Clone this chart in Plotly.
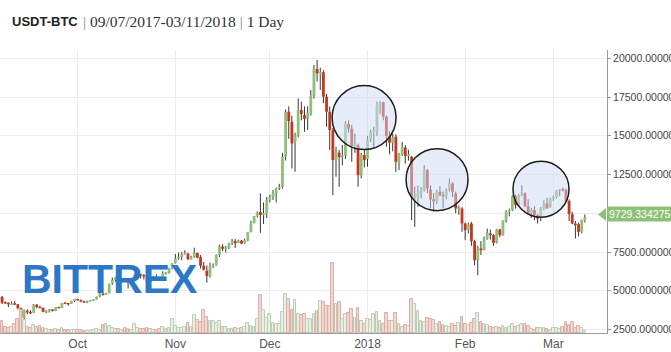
import plotly.graph_objects as go
import pandas as pd

# ---------------- data ----------------
dates = pd.date_range("2017-09-07", "2018-03-11", freq="D")

open_ = [4605, 4229, 4229, 4122, 4168, 4132, 3875, 3270, 3700, 3600,
         3560, 4110, 3940, 3905, 3640, 3650, 3800, 3700, 3930, 3900,
         4200, 4174, 4166, 4341, 4460, 4390, 4320, 4229, 4324, 4370,
         4430, 4614, 4800, 4740, 4850, 5464, 5700, 5835, 5688, 5741,
         5603, 5583, 5708, 6006, 6036, 6007, 5935, 5524, 5747, 5899,
         5787, 5755, 6114, 6132, 6441, 6777, 7087, 7164, 7404, 7403,
         7023, 7141, 7446, 7173, 6618, 6296, 5938, 6561, 6634, 7323,
         7853, 7697, 7767, 8039, 8205, 8077, 8233, 8075, 8241, 8789,
         9352, 9823, 10077, 9888, 10000, 10850, 11050, 11300, 11600, 11709,
         13646, 16553, 15907, 14600, 15046, 16661, 16338, 16122, 16445, 17565,
         19309, 19029, 19100, 17522, 16553, 15369, 13431, 13905, 13620, 13733,
         15756, 15455, 14300, 14400, 12462, 13754, 13500, 14766, 15196, 15300,
         16983, 17156, 16230, 14981, 14550, 14938, 13323, 13818, 14249, 13689,
         13646, 11020, 11063, 11300, 11493, 12785, 11536, 10900, 10760, 11386,
         11170, 11106, 11536, 11924, 11278, 10250, 10309, 9340, 8910, 9340,
         8199, 6971, 7725, 7617, 8371, 8694, 8586, 8091, 8952, 8586,
         9512, 10093, 10200, 11105, 10523, 11170, 11277, 10459, 9985, 10200,
         9878, 9770, 10308, 10631, 10416, 10954, 11062, 11492, 11535, 11500,
         10782, 9942, 9339, 9296, 8801, 9555]
high = [4662, 4308, 4245, 4308, 4344, 4132, 3921, 3790, 3808, 3748,
        4130, 4120, 4031, 3916, 3758, 3819, 3810, 3950, 3969, 4210,
        4253, 4214, 4358, 4480, 4490, 4433, 4355, 4362, 4413, 4443,
        4627, 4878, 4923, 4874, 5460, 5856, 5900, 5852, 5784, 5776,
        5603, 5749, 6060, 6194, 6076, 6075, 5935, 5798, 5971, 6059,
        5876, 6255, 6214, 6470, 6781, 7367, 7461, 7492, 7617, 7445,
        7253, 7776, 7447, 7312, 6870, 6626, 6812, 6764, 7342, 7967,
        8004, 7884, 8102, 8336, 8348, 8302, 8268, 8374, 8790, 9522,
        9818, 10125, 11280, 10700, 11046, 11200, 11500, 11657, 11900, 13900,
        16700, 16900, 16300, 15200, 17414, 17200, 16900, 16900, 17952, 19567,
        19890, 19400, 19250, 17700, 16900, 15500, 14292, 14100, 14400, 15950,
        16000, 15700, 15150, 14500, 13900, 14100, 15000, 15400, 15584, 17200,
        17263, 17200, 16300, 15300, 15150, 15100, 13900, 14600, 14400, 14100,
        13700, 11708, 11800, 11700, 13108, 12850, 11800, 11300, 11500, 11752,
        11400, 11600, 12247, 12000, 11400, 10500, 10400, 9400, 9400, 9450,
        8300, 7900, 8200, 8500, 9016, 8950, 8650, 8990, 9000, 9550,
        10200, 10300, 11150, 11200, 11250, 11815, 11350, 10900, 10350, 10450,
        9950, 10400, 10850, 11000, 11000, 11150, 11500, 11550, 11650, 11600,
        10900, 10100, 9500, 9400, 9600, 9921]
low = [4140, 4140, 3951, 4109, 4085, 3789, 2990, 3000, 3487, 3499,
       3560, 3869, 3871, 3613, 3553, 3594, 3666, 3690, 3869, 3892,
       4142, 4035, 4160, 4269, 4377, 4258, 4210, 4196, 4320, 4330,
       4430, 4564, 4700, 4720, 4822, 5380, 5591, 5478, 5643, 5570,
       5151, 5583, 5627, 5965, 5792, 5732, 5451, 5379, 5747, 5747,
       5689, 5723, 6040, 6104, 6377, 6758, 7003, 6975, 7333, 7004,
       7023, 7115, 7101, 6437, 6300, 5519, 5844, 6461, 6634, 7176,
       7561, 7463, 7694, 7949, 7762, 8075, 8038, 8035, 8191, 8776,
       9352, 9737, 8740, 9300, 9694, 10700, 10862, 10700, 11500, 11600,
       13400, 14800, 12893, 12678, 14900, 16000, 15261, 15370, 16300, 17400,
       18500, 17952, 17100, 15584, 14077, 11170, 12355, 11709, 13100, 13500,
       15200, 13323, 13900, 11709, 12250, 12957, 13000, 14600, 14184, 15000,
       16400, 16000, 14292, 13800, 14000, 12677, 12785, 13700, 13200, 13400,
       9555, 9125, 10417, 10950, 11400, 11300, 10309, 10094, 10600, 11100,
       10309, 10900, 11400, 11050, 10000, 9900, 8802, 8264, 8700, 7897,
       6647, 6002, 7300, 7600, 8300, 8300, 7900, 8050, 8450, 8550,
       9400, 9800, 10150, 10300, 10500, 11100, 10400, 9900, 9700, 9556,
       9340, 9500, 10200, 10300, 10350, 10800, 10950, 11100, 11400, 10700,
       9500, 9300, 8371, 8500, 8700, 9400]
close = [4229, 4226, 4122, 4161, 4130, 3882, 3270, 3740, 3600, 3560,
         4110, 3940, 3905, 3640, 3650, 3800, 3700, 3930, 3900, 4200,
         4174, 4164, 4338, 4460, 4390, 4317, 4229, 4328, 4370, 4426,
         4610, 4800, 4720, 4850, 5446, 5720, 5860, 5679, 5725, 5605,
         5590, 5708, 6011, 6031, 6009, 5930, 5526, 5750, 5904, 5780,
         5753, 6153, 6130, 6468, 6767, 7078, 7207, 7379, 7407, 7022,
         7144, 7459, 7143, 6618, 6357, 5950, 6559, 6635, 7315, 7871,
         7708, 7790, 8036, 8200, 8071, 8253, 8038, 8253, 8790, 9330,
         9819, 10058, 9888, 10000, 10850, 11050, 11300, 11600, 11709, 13646,
         16553, 15950, 14508, 15046, 16661, 16402, 16079, 16445, 17565, 19309,
         19029, 19100, 17522, 16553, 15369, 13431, 13905, 13620, 13733, 15842,
         15455, 14335, 14420, 12462, 13754, 13431, 14766, 15196, 15300, 16983,
         17156, 16230, 14981, 14550, 14900, 13323, 13818, 14292, 13689, 13800,
         11063, 11106, 11300, 11493, 12785, 11601, 10890, 10760, 11386, 11150,
         11106, 11536, 11924, 11386, 10309, 10330, 9340, 8910, 9280, 8199,
         6972, 7725, 7617, 8371, 8737, 8586, 8091, 8952, 8586, 9512,
         10093, 10200, 11105, 10523, 11170, 11277, 10459, 9985, 10200, 9878,
         9662, 10308, 10631, 10308, 10954, 11062, 11492, 11535, 11500, 10782,
         9942, 9339, 9232, 8801, 9555, 9729]
volume = [12, 6, 5, 6, 9, 14, 23, 13, 6, 5,
          8, 6, 7, 5, 4, 3, 3, 4, 3, 5,
          3, 3, 3, 3, 3, 3, 2, 2, 2, 3,
          4, 3, 8, 9, 7, 5, 4, 4, 3, 5,
          4, 3, 9, 5, 4, 4, 5, 4, 3, 3,
          4, 6, 4, 5, 14, 7, 5, 5, 6, 10,
          6, 18, 13, 11, 23, 16, 12, 12, 10, 12,
          6, 6, 4, 4, 5, 4, 5, 6, 10, 7,
          6, 14, 38, 23, 15, 19, 10, 9, 9, 21,
          39, 34, 23, 33, 19, 18, 19, 14, 14, 19,
          22, 32, 31, 27, 27, 70, 29, 31, 14, 19,
          20, 24, 15, 25, 12, 9, 14, 13, 19, 21,
          12, 9, 20, 12, 12, 20, 9, 6, 8, 7,
          34, 29, 22, 12, 11, 15, 14, 13, 9, 11,
          8, 7, 6, 9, 7, 10, 16, 9, 8, 10,
          14, 20, 11, 9, 8, 6, 5, 6, 5, 7,
          5, 6, 9, 6, 7, 9, 9, 7, 4, 3,
          5, 5, 5, 4, 3, 5, 5, 4, 6, 11,
          8, 11, 5, 7, 5, 2]

month_ticks = ["2017-10-01", "2017-11-01", "2017-12-01", "2018-01-01", "2018-02-01", "2018-03-01"]
month_labels = ["Oct", "Nov", "Dec", "2018", "Feb", "Mar"]
price_ticks = [2500, 5000, 7500, 10000, 12500, 15000, 17500, 20000]
# the 10000 label sits under the last-price flag, so it is left blank
price_labels = ["2500.000000", "5000.000000", "7500.000000", "",
                "12500.000000", "15000.000000", "17500.000000", "20000.000000"]

# highlight circles: centre (date, price) and radius in px
circle_dates = ["2017-12-30 22:00", "2018-01-23 02:00", "2018-02-25 02:00"]
circle_prices = [16176, 12170, 11557]
circle_radius = [32, 31, 28]

last_price_text = "9729.334275"

# ---------------- styling ----------------
UP_BODY, DN_BODY, WICK = "#8cc176", "#c4371c", "#383838"
UP_VOL, UP_VOL_LINE = "#e8f0e1", "#bfcdb8"
DN_VOL, DN_VOL_LINE = "#f3d6d0", "#dab0a9"
DAY_MS = 86400000
MIN_BODY = 90  # smallest body drawn, in price units (about 1.4 px)

is_up = [c >= o for o, c in zip(open_, close)]

fig = go.Figure()

# volume
fig.add_trace(go.Bar(
    x=dates, y=volume, yaxis="y2",
    width=0.88 * DAY_MS,
    marker=dict(color=[UP_VOL if u else DN_VOL for u in is_up],
                line=dict(color=[UP_VOL_LINE if u else DN_VOL_LINE for u in is_up], width=1)),
    hoverinfo="skip", showlegend=False))

# wicks
wx, wy = [], []
for d, h, l in zip(dates, high, low):
    wx += [d, d, None]
    wy += [l, h, None]
fig.add_trace(go.Scatter(x=wx, y=wy, mode="lines", line=dict(color=WICK, width=1),
                         hoverinfo="skip", showlegend=False, connectgaps=False))

# bodies (thick line segments from open to close, drawn over the wicks)
for want_up, colour in ((True, UP_BODY), (False, DN_BODY)):
    bx, by = [], []
    for d, o, c, u in zip(dates, open_, close, is_up):
        if u != want_up:
            continue
        lo_, hi_ = min(o, c), max(o, c)
        if hi_ - lo_ < MIN_BODY:
            mid = (hi_ + lo_) / 2
            lo_, hi_ = mid - MIN_BODY / 2, mid + MIN_BODY / 2
        bx += [d, d, None]
        by += [lo_, hi_, None]
    fig.add_trace(go.Scatter(x=bx, y=by, mode="lines", line=dict(color=colour, width=2.8),
                             hoverinfo="skip", showlegend=False, connectgaps=False))

shapes = [dict(type="line", xref="x", yref="paper", x0="2018-01-01", x1="2018-01-01",
               y0=0, y1=1, line=dict(color="#cfcfcf", width=1), layer="below")]
for cd, cp, r in zip(circle_dates, circle_prices, circle_radius):
    shapes.append(dict(type="circle", xref="x", yref="y", xsizemode="pixel", ysizemode="pixel",
                       xanchor=cd, yanchor=cp, x0=-r, x1=r, y0=-r, y1=r,
                       fillcolor="rgba(205,218,246,0.5)",
                       line=dict(color="#1c1c1c", width=1.5), layer="above"))
# last-price arrow
shapes.append(dict(type="path", xref="paper", yref="y", xsizemode="pixel", ysizemode="pixel",
                   xanchor=1, yanchor=close[-1], path="M -9,3 L -1,9.5 L -1,-3.5 Z",
                   fillcolor=UP_BODY, line=dict(width=0), layer="above"))

annotations = [
    dict(xref="paper", yref="paper", x=10 / 607, y=(333 - 22) / 283, xanchor="left", yanchor="middle",
         text="<b>USDT-BTC</b>", showarrow=False,
         font=dict(family="Liberation Sans, Arial", size=13, color="#222")),
    dict(xref="paper", yref="paper", x=81 / 607, y=(333 - 22) / 283, xanchor="left", yanchor="middle",
         text="<span style='color:#888'>|</span> 09/07/2017-03/11/2018 <span style='color:#888'>|</span> 1 Day",
         showarrow=False, font=dict(family="Liberation Serif, Georgia, serif", size=15.5, color="#333")),
    dict(xref="paper", yref="paper", x=109 / 607, y=(333 - 279) / 283, xanchor="center", yanchor="middle",
         text="<b>BITTREX</b>", showarrow=False,
         font=dict(family="Liberation Sans, Arial", size=41, color="#2d78c6")),
    dict(xref="paper", yref="y", x=1.0, y=close[-1], yshift=3, xanchor="left", yanchor="middle",
         text=last_price_text, showarrow=False, bgcolor=UP_BODY, borderpad=1,
         width=72, height=12, align="left",
         font=dict(family="Liberation Sans, Arial", size=10.5, color="white")),
]

fig.update_layout(
    width=671, height=352,
    margin=dict(l=0, r=64, t=50, b=19, autoexpand=False),
    paper_bgcolor="white", plot_bgcolor="white",
    barmode="overlay", bargap=0,
    showlegend=False,
    xaxis=dict(type="date", range=["2017-09-06 08:00", "2018-03-18 00:48"],
               tickvals=month_ticks, ticktext=month_labels,
               showgrid=True, gridcolor="#ececec", gridwidth=1,
               showline=True, linecolor="#9a9a9a", linewidth=1,
               ticks="", zeroline=False, rangeslider=dict(visible=False),
               tickfont=dict(family="Liberation Sans, Arial", size=12, color="#555"),
               fixedrange=True),
    yaxis=dict(range=[2274, 20536], side="right", tickvals=price_ticks, ticktext=price_labels,
               showgrid=True, gridcolor="#ececec", gridwidth=1,
               showline=True, linecolor="#9a9a9a", linewidth=1,
               ticks="outside", ticklen=3, tickcolor="#9a9a9a",
               tickfont=dict(family="Liberation Sans, Arial", size=10.5, color="#444"),
               zeroline=False, automargin=False, fixedrange=True),
    yaxis2=dict(overlaying="y", range=[0, 283], visible=False, fixedrange=True),
    shapes=shapes, annotations=annotations,
)

fig.write_html("out.html")
